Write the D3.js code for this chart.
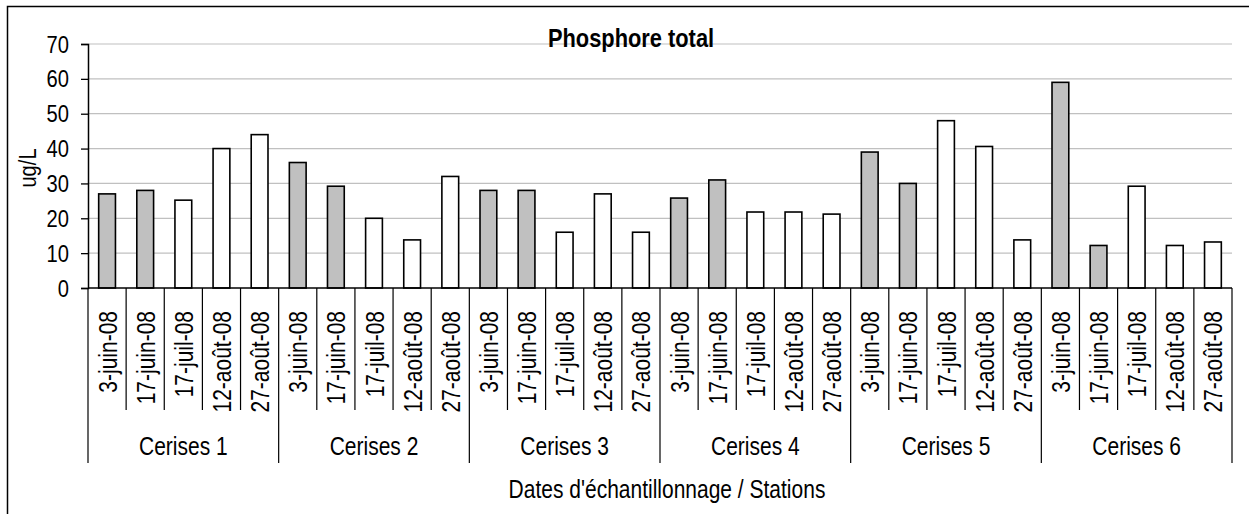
<meta charset="utf-8">
<style type="text/css">
    body { margin: 0; background: #fff; }
    text { font-family: "Liberation Sans Narrow", "Arial Narrow", "Liberation Sans", Arial, sans-serif; fill: #000; }
    .grid line { stroke: #c0c0c0; stroke-width: 1.2; }
    .bar { stroke: #000; stroke-width: 1.6; }
</style>
<body>
<script src="https://d3js.org/d3.v7.min.js"></script>
<script>

// data
var stations = ["Cerises 1", "Cerises 2", "Cerises 3", "Cerises 4", "Cerises 5", "Cerises 6"];
var dates = ["3-juin-08", "17-juin-08", "17-juil-08", "12-août-08", "27-août-08"];
var cerises1 = [27, 28, 25.2, 40, 44];
var cerises2 = [36, 29.2, 20, 13.8, 32];
var cerises3 = [28, 28, 16, 27, 16];
var cerises4 = [25.8, 31, 21.8, 21.8, 21.2];
var cerises5 = [39, 30, 48, 40.6, 13.8];
var cerises6 = [59, 12.2, 29.2, 12.2, 13.2];
var yTicks = [0, 10, 20, 30, 40, 50, 60, 70];

var series = [cerises1, cerises2, cerises3, cerises4, cerises5, cerises6];

// flatten into one row per bar
var data = [];
stations.forEach(function(s, i) {
    dates.forEach(function(d, j) {
        data.push({station: s, date: d, di: j, key: s + "|" + d, value: series[i][j]});
    });
});

var width = 1249, height = 514;
var plotLeft = 88, plotRight = 1232, plotTop = 44, plotBottom = 288;
var narrow = 0.84; // no Arial Narrow here, squeeze the regular face

var svg = d3.select("body").append("svg")
    .attr("width", width)
    .attr("height", height);

svg.append("rect")
    .attr("width", width).attr("height", height)
    .attr("fill", "#fff");

// chart frame (runs off the right and bottom edges)
svg.append("rect")
    .attr("x", 7.5).attr("y", 6.5)
    .attr("width", 1270).attr("height", 530)
    .attr("fill", "none")
    .attr("stroke", "#000")
    .attr("stroke-width", 1.5);

var x = d3.scaleBand()
    .domain(data.map(function(d) { return d.key; }))
    .range([plotLeft, plotRight])
    .paddingInner(0.56)
    .paddingOuter(0.28);

var step = x.step();
var y = d3.scaleLinear().domain([0, 70]).range([plotBottom, plotTop]);

// gridlines
svg.append("g")
    .attr("class", "grid")
  .selectAll("line")
    .data(yTicks.slice(1))
  .enter().append("line")
    .attr("x1", plotLeft).attr("x2", plotRight)
    .attr("y1", function(d) { return y(d); })
    .attr("y2", function(d) { return y(d); });

// bars
svg.selectAll(".bar")
    .data(data)
  .enter().append("rect")
    .attr("class", "bar")
    .attr("x", function(d) { return x(d.key); })
    .attr("width", x.bandwidth())
    .attr("y", function(d) { return y(d.value); })
    .attr("height", function(d) { return y(0) - y(d.value); })
    .attr("fill", function(d) { return d.di < 2 ? "#c0c0c0" : "#fff"; });

// y axis
var yAxis = svg.append("g")
    .attr("transform", "translate(" + plotLeft + ",0)")
    .call(d3.axisLeft(y).tickValues(yTicks).tickSize(7).tickFormat(function() { return ""; }));
yAxis.select(".domain").attr("stroke", "#000").attr("stroke-width", 1.5);
yAxis.selectAll(".tick line").attr("stroke", "#000").attr("stroke-width", 1.3);

svg.selectAll(".ylabel")
    .data(yTicks)
  .enter().append("text")
    .attr("transform", function(d) { return "translate(69," + (y(d) + 8.5) + ") scale(" + narrow + ",1)"; })
    .attr("text-anchor", "end")
    .attr("font-size", 24)
    .text(function(d) { return d; });

// x baseline
svg.append("line")
    .attr("x1", plotLeft).attr("x2", plotRight)
    .attr("y1", y(0)).attr("y2", y(0))
    .attr("stroke", "#000").attr("stroke-width", 1.5);

// date separators
svg.selectAll(".dsep")
    .data(data.filter(function(d) { return d.di > 0; }))
  .enter().append("line")
    .attr("x1", function(d) { return x(d.key) - step * 0.28; })
    .attr("x2", function(d) { return x(d.key) - step * 0.28; })
    .attr("y1", y(0)).attr("y2", 410)
    .attr("stroke", "#000").attr("stroke-width", 1.2);

// station separators (longer)
var groupEdges = data.filter(function(d) { return d.di === 0; }).map(function(d) { return x(d.key) - step * 0.28; });
groupEdges.push(plotRight);
svg.selectAll(".gsep")
    .data(groupEdges)
  .enter().append("line")
    .attr("x1", function(d) { return d; })
    .attr("x2", function(d) { return d; })
    .attr("y1", y(0)).attr("y2", 463)
    .attr("stroke", "#000").attr("stroke-width", 1.2);

// date labels, vertical
svg.selectAll(".dlabel")
    .data(data)
  .enter().append("text")
    .attr("transform", function(d) {
        return "translate(" + (x(d.key) + x.bandwidth() / 2 + 9.5) + ",311) rotate(-90) scale(" + narrow + ",1)";
    })
    .attr("text-anchor", "end")
    .attr("font-size", 25)
    .text(function(d) { return d.date; });

// station labels
svg.selectAll(".slabel")
    .data(stations)
  .enter().append("text")
    .attr("transform", function(s, i) {
        return "translate(" + ((groupEdges[i] + groupEdges[i + 1]) / 2) + ",455) scale(" + narrow + ",1)";
    })
    .attr("text-anchor", "middle")
    .attr("font-size", 25)
    .text(function(s) { return s; });

// titles
svg.append("text")
    .attr("transform", "translate(631,47) scale(" + narrow + ",1)")
    .attr("text-anchor", "middle")
    .attr("font-size", 26)
    .attr("font-weight", "bold")
    .text("Phosphore total");

svg.append("text")
    .attr("transform", "translate(667,498) scale(" + narrow + ",1)")
    .attr("text-anchor", "middle")
    .attr("font-size", 25)
    .text("Dates d'échantillonnage / Stations");

svg.append("text")
    .attr("transform", "translate(36,168) rotate(-90) scale(" + narrow + ",1)")
    .attr("text-anchor", "middle")
    .attr("font-size", 24)
    .text("ug/L");

</script>
</body>
